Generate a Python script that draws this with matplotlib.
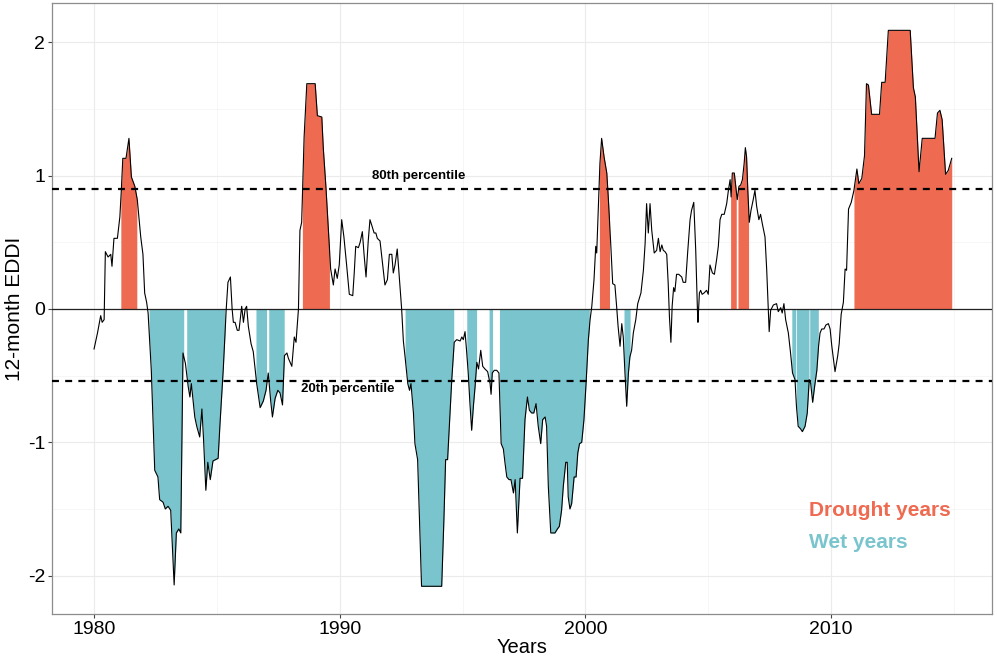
import matplotlib
matplotlib.use("Agg")
import matplotlib.pyplot as plt
import numpy as np

# 12-month EDDI (decimal year, value)
years = [
    1980.00, 1980.14, 1980.27, 1980.33, 1980.41, 1980.46, 1980.57, 1980.68, 1980.73, 1980.81,
    1980.95, 1981.05, 1981.11, 1981.17, 1981.30, 1981.42, 1981.52, 1981.66, 1981.76, 1981.90,
    1981.99, 1982.06, 1982.14, 1982.20, 1982.33, 1982.47, 1982.60, 1982.67, 1982.81, 1982.90,
    1983.01, 1983.12, 1983.26, 1983.35, 1983.45, 1983.53, 1983.62, 1983.72, 1983.83, 1983.90,
    1983.96, 1984.10, 1984.18, 1984.30, 1984.39, 1984.46, 1984.55, 1984.63, 1984.73, 1984.84,
    1985.05, 1985.13, 1985.26, 1985.38, 1985.45, 1985.55, 1985.62, 1985.67, 1985.74, 1985.83,
    1985.90, 1986.01, 1986.08, 1986.15, 1986.21, 1986.28, 1986.39, 1986.48, 1986.62, 1986.76,
    1986.89, 1987.00, 1987.09, 1987.19, 1987.26, 1987.37, 1987.48, 1987.57, 1987.67, 1987.75,
    1987.85, 1987.91, 1988.05, 1988.15, 1988.22, 1988.32, 1988.38, 1988.45, 1988.55, 1988.66,
    1989.00, 1989.09, 1989.27, 1989.33, 1989.44, 1989.54, 1989.63, 1989.74, 1989.81, 1989.90,
    1989.98, 1990.08, 1990.17, 1990.28, 1990.39, 1990.53, 1990.59, 1990.65, 1990.76, 1990.83,
    1990.92, 1990.99, 1991.07, 1991.16, 1991.23, 1991.30, 1991.40, 1991.47, 1991.53, 1991.64,
    1991.75, 1991.84, 1991.94, 1992.02, 1992.12, 1992.18, 1992.25, 1992.34, 1992.43, 1992.52,
    1992.59, 1992.66, 1992.77, 1992.84, 1992.90, 1993.00, 1993.06, 1993.17, 1993.27, 1993.33,
    1994.15, 1994.24, 1994.31, 1994.39, 1994.49, 1994.56, 1994.66, 1994.76, 1994.90, 1994.97,
    1995.03, 1995.10, 1995.17, 1995.23, 1995.30, 1995.37, 1995.44, 1995.51, 1995.58, 1995.65,
    1995.74, 1995.82, 1995.91, 1996.02, 1996.12, 1996.16, 1996.21, 1996.29, 1996.39, 1996.48,
    1996.57, 1996.66, 1996.73, 1996.80, 1996.89, 1996.97, 1997.07, 1997.14, 1997.23, 1997.34,
    1997.44, 1997.54, 1997.64, 1997.72, 1997.81, 1997.90, 1997.99, 1998.08, 1998.18, 1998.26,
    1998.36, 1998.42, 1998.49, 1998.59, 1998.76, 1998.86, 1998.94, 1999.03, 1999.10, 1999.20,
    1999.26, 1999.30, 1999.37, 1999.44, 1999.54, 1999.62, 1999.69, 1999.76, 1999.85, 1999.94,
    2000.02, 2000.12, 2000.19, 2000.26, 2000.35, 2000.42, 2000.46, 2000.53, 2000.59, 2000.66,
    2000.76, 2000.87, 2000.93, 2001.03, 2001.11, 2001.20, 2001.27, 2001.33, 2001.41, 2001.48,
    2001.54, 2001.61, 2001.68, 2001.75, 2001.81, 2001.88, 2001.95, 2002.05, 2002.13, 2002.18,
    2002.26, 2002.36, 2002.43, 2002.49, 2002.56, 2002.63, 2002.70, 2002.80, 2002.90, 2002.97,
    2003.04, 2003.11, 2003.17, 2003.24, 2003.31, 2003.37, 2003.42, 2003.48, 2003.53, 2003.59,
    2003.64, 2003.71, 2003.80, 2003.92, 2003.98, 2004.08, 2004.16, 2004.26, 2004.32, 2004.41,
    2004.49, 2004.56, 2004.58, 2004.64, 2004.69, 2004.75, 2004.83, 2004.93, 2005.00, 2005.07,
    2005.17, 2005.25, 2005.34, 2005.41, 2005.48, 2005.55, 2005.65, 2005.75, 2005.82, 2005.89,
    2005.93, 2005.98, 2006.06, 2006.12, 2006.18, 2006.25, 2006.32, 2006.39, 2006.46, 2006.51,
    2006.56, 2006.61, 2006.67, 2006.74, 2006.83, 2006.90, 2006.97, 2007.06, 2007.13, 2007.20,
    2007.31, 2007.38, 2007.44, 2007.48, 2007.54, 2007.65, 2007.78, 2007.85, 2007.95, 2008.01,
    2008.08, 2008.15, 2008.26, 2008.35, 2008.43, 2008.53, 2008.59, 2008.66, 2008.76, 2008.83,
    2008.94, 2009.03, 2009.11, 2009.17, 2009.25, 2009.33, 2009.42, 2009.49, 2009.55, 2009.62,
    2009.71, 2009.79, 2009.89, 2009.96, 2010.03, 2010.16, 2010.27, 2010.33, 2010.41, 2010.50,
    2010.57, 2010.63, 2010.71, 2010.82, 2010.93, 2011.05, 2011.13, 2011.25, 2011.36, 2011.44,
    2011.52, 2011.65, 2011.97, 2012.06, 2012.20, 2012.33, 2013.22, 2013.35, 2013.43, 2013.58,
    2013.71, 2014.23, 2014.33, 2014.43, 2014.52, 2014.60, 2014.66, 2014.77, 2014.91,
]
eddi = [
    -0.30, -0.18, -0.05, -0.10, -0.08, 0.43, 0.39, 0.41, 0.32, 0.53,
    0.53, 0.69, 0.89, 1.13, 1.13, 1.28, 0.99, 0.92, 0.82, 0.54,
    0.41, 0.12, 0.05, -0.03, -0.46, -1.21, -1.26, -1.43, -1.45, -1.50,
    -1.48, -1.51, -2.07, -1.68, -1.65, -1.68, -0.33, -0.41, -0.58, -0.66,
    -0.56, -0.81, -0.88, -0.96, -0.75, -0.99, -1.36, -1.15, -1.28, -1.14,
    -1.12, -0.85, -0.45, 0.00, 0.20, 0.24, 0.00, -0.10, -0.10, -0.16,
    -0.16, 0.02, -0.10, 0.00, 0.02, -0.13, -0.26, -0.32, -0.56, -0.74,
    -0.69, -0.61, -0.48, -0.69, -0.81, -0.67, -0.61, -0.63, -0.72, -0.35,
    -0.33, -0.37, -0.43, -0.21, -0.25, 0.00, 0.59, 0.65, 1.29, 1.69,
    1.69, 1.45, 1.44, 1.21, 0.91, 0.59, 0.30, 0.18, 0.30, 0.23,
    0.33, 0.67, 0.54, 0.33, 0.11, 0.10, 0.27, 0.47, 0.46, 0.50,
    0.58, 0.41, 0.24, 0.51, 0.67, 0.63, 0.57, 0.57, 0.53, 0.51,
    0.33, 0.18, 0.22, 0.41, 0.41, 0.27, 0.33, 0.45, 0.22, 0.00,
    -0.24, -0.36, -0.56, -0.61, -0.56, -0.78, -1.01, -1.13, -1.73, -2.08,
    -2.08, -1.58, -1.13, -1.13, -0.78, -0.53, -0.25, -0.23, -0.24, -0.21,
    -0.23, -0.17, -0.33, -0.48, -0.71, -0.91, -0.73, -0.58, -0.40, -0.45,
    -0.31, -0.43, -0.45, -0.47, -0.56, -0.64, -0.48, -0.46, -0.46, -0.48,
    -1.01, -1.05, -1.16, -1.26, -1.28, -1.28, -1.38, -1.28, -1.68, -1.27,
    -1.27, -0.83, -0.66, -0.76, -0.78, -0.78, -0.71, -0.88, -1.01, -0.83,
    -0.81, -0.88, -1.33, -1.68, -1.68, -1.65, -1.63, -1.51, -1.33, -1.15,
    -1.15, -1.41, -1.50, -1.46, -1.26, -1.26, -1.08, -1.01, -1.00, -0.83,
    -0.58, -0.23, -0.08, 0.02, 0.22, 0.47, 0.42, 0.79, 1.09, 1.28,
    1.14, 1.02, 0.84, 0.49, 0.19, 0.18, 0.02, -0.13, -0.28, -0.11,
    -0.21, -0.48, -0.73, -0.48, -0.36, -0.31, -0.18, -0.08, 0.04, 0.07,
    0.12, 0.29, 0.49, 0.79, 0.57, 0.79, 0.59, 0.42, 0.44, 0.53,
    0.43, 0.48, 0.44, 0.43, 0.41, 0.19, -0.06, -0.25, 0.02, 0.16,
    0.13, 0.26, 0.26, 0.24, 0.20, 0.20, 0.42, 0.67, 0.74, 0.80,
    0.44, -0.01, -0.10, 0.12, 0.14, 0.11, 0.12, 0.14, 0.11, 0.33,
    0.27, 0.26, 0.37, 0.47, 0.67, 0.71, 0.71, 0.79, 0.89, 0.97,
    0.84, 1.02, 1.02, 0.92, 0.82, 0.92, 0.93, 0.97, 1.09, 1.21,
    1.14, 0.89, 0.65, 0.74, 0.82, 0.89, 0.77, 0.67, 0.71, 0.64,
    0.54, 0.29, 0.02, -0.17, -0.01, 0.03, 0.04, -0.02, 0.01, -0.03,
    0.04, -0.08, -0.18, -0.33, -0.48, -0.53, -0.73, -0.88, -0.90, -0.92,
    -0.88, -0.78, -0.53, -0.56, -0.70, -0.58, -0.46, -0.28, -0.18, -0.15,
    -0.15, -0.12, -0.11, -0.15, -0.28, -0.47, -0.35, -0.26, -0.04, 0.05,
    0.30, 0.29, 0.75, 0.80, 0.89, 1.05, 0.94, 0.98, 1.15, 1.69,
    1.68, 1.46, 1.46, 1.70, 1.70, 2.09, 2.09, 1.66, 1.59, 1.03,
    1.28, 1.28, 1.47, 1.49, 1.42, 1.19, 1.01, 1.04, 1.13,
]

drought_spans = [(1981.09, 1981.74), (1988.48, 1989.58), (2000.57, 2000.98),
                 (2005.91, 2006.14), (2006.21, 2006.64), (2010.93, 2014.91)]
wet_spans = [(1982.24, 1983.65), (1983.77, 1985.33), (1986.59, 1987.02),
             (1987.11, 1987.74), (1992.66, 1994.64), (1995.17, 1995.57),
             (1996.08, 1996.22), (1996.50, 2000.16), (2001.57, 2001.82),
             (2008.40, 2008.56), (2008.59, 2009.10), (2009.13, 2009.48)]

p80 = 0.90
p20 = -0.54

x_ticks = [1980, 1990, 2000, 2010]
x_minor = [1985, 1995, 2005, 2015]
y_ticks = [-2, -1, 0, 1, 2]
y_minor = [-1.5, -0.5, 0.5, 1.5]

DROUGHT = "#EE6A50"
WET = "#7AC5CD"

plt.rcParams['font.family'] = ['Liberation Sans', 'DejaVu Sans']
plt.rcParams['lines.scale_dashes'] = False

t = np.array(years)
v = np.array(eddi)


def fill_span(ax, a, b, color):
    inside = (t > a) & (t < b)
    xs = np.concatenate([[a], t[inside], [b]])
    ys = np.concatenate([[np.interp(a, t, v)], v[inside], [np.interp(b, t, v)]])
    ax.fill_between(xs, 0, ys, color=color, lw=0, zorder=2)


fig = plt.figure(figsize=(9.97, 6.56), dpi=100)
ax = fig.add_axes([0.0522, 0.064, 0.9428, 0.9314])

for a, b in drought_spans:
    fill_span(ax, a, b, DROUGHT)
for a, b in wet_spans:
    fill_span(ax, a, b, WET)

ax.axhline(0, color='#222222', lw=0.9, zorder=3)
ax.axhline(p80, color='black', lw=1.6, dashes=(5, 4.5), zorder=3)
ax.axhline(p20, color='black', lw=1.6, dashes=(5, 4.5), zorder=3)
ax.plot(t, v, color='black', lw=0.8, zorder=4)

ax.text(1993.23, 1.0, "80th percentile", fontsize=9.5, fontweight='bold',
        ha='center', va='center', zorder=5)
ax.text(1990.32, -0.60, "20th percentile", fontsize=9.5, fontweight='bold',
        ha='center', va='center', zorder=5)
ax.text(2009.11, -1.51, "Drought years", fontsize=15, fontweight='bold',
        color=DROUGHT, ha='left', va='center', zorder=5)
ax.text(2009.11, -1.75, "Wet years", fontsize=15, fontweight='bold',
        color=WET, ha='left', va='center', zorder=5)

ax.set_xlim(1978.29, 2016.55)
ax.set_ylim(-2.288, 2.295)
ax.set_xticks(x_ticks)
ax.set_xticks(x_minor, minor=True)
ax.set_yticks(y_ticks)
ax.set_yticks(y_minor, minor=True)
ax.set_xticklabels([str(x) for x in x_ticks])
ax.set_yticklabels([str(y) for y in y_ticks])
ax.tick_params(which='major', labelsize=14, length=3, pad=2,
               color='#444444', labelcolor='black')
ax.tick_params(which='minor', length=0)
ax.grid(which='major', color='#ebebeb', lw=0.8, zorder=0)
ax.grid(which='minor', color='#f3f3f3', lw=0.5, zorder=0)
ax.set_axisbelow(True)
for s in ax.spines.values():
    s.set_color('#8c8c8c')
    s.set_linewidth(0.9)

ax.set_xlabel("Years", fontsize=14.5, labelpad=0)
ax.set_ylabel("12-month EDDI", fontsize=15, labelpad=3)

fig.savefig("out.png", dpi=100)
